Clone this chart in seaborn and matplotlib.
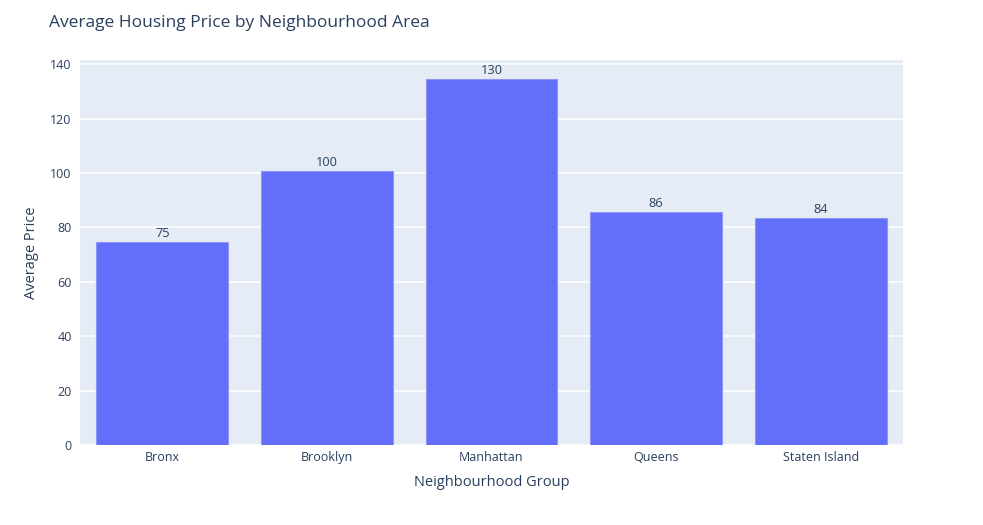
import matplotlib
matplotlib.use("Agg")
import matplotlib.pyplot as plt
import seaborn as sns
import pandas as pd

categories = ["Bronx", "Brooklyn", "Manhattan", "Queens", "Staten Island"]
avg_price = [74.5, 100.8, 134.6, 85.7, 83.5]
bar_labels = ["75", "100", "130", "86", "84"]
y_ticks = [0, 20, 40, 60, 80, 100, 120, 140]

df = pd.DataFrame({"Neighbourhood Group": categories, "Average Price": avg_price})

sns.set_theme(style="darkgrid")
plt.rcParams["font.family"] = ["Open Sans", "DejaVu Sans"]

TXT = "#2a3f5f"
fig = plt.figure(figsize=(9.83, 5.25), dpi=100)
ax = fig.add_axes([80 / 983, 80 / 525, 823 / 983, 385 / 525])
ax.set_facecolor("#e5ecf6")

sns.barplot(data=df, x="Neighbourhood Group", y="Average Price", color="#636efa",
            saturation=1, width=0.8, edgecolor="#8f96f8", linewidth=0.8, ax=ax, zorder=3)

ax.bar_label(ax.containers[0], labels=bar_labels, padding=1.5, fontsize=9.2, color=TXT)

ax.set_xlim(-0.5, 4.5)
ax.set_ylim(0, 141.6)
ax.set_yticks(y_ticks)
ax.grid(axis="y", color="white", linewidth=1.1, zorder=0)
ax.grid(axis="x", visible=False)
for s in ax.spines.values():
    s.set_visible(False)
ax.tick_params(axis="both", length=0, labelsize=9, labelcolor=TXT)
ax.tick_params(axis="x", pad=4)
ax.tick_params(axis="y", pad=6)
ax.set_xlabel("Neighbourhood Group", fontsize=10.5, color=TXT, labelpad=8)
ax.set_ylabel("Average Price", fontsize=10.5, color=TXT, labelpad=8)

fig.text(49 / 983, 1 - 23 / 525, "Average Housing Price by Neighbourhood Area",
         fontsize=12.5, color=TXT, va="center", ha="left")

fig.savefig("out.png", dpi=100, facecolor="white")
